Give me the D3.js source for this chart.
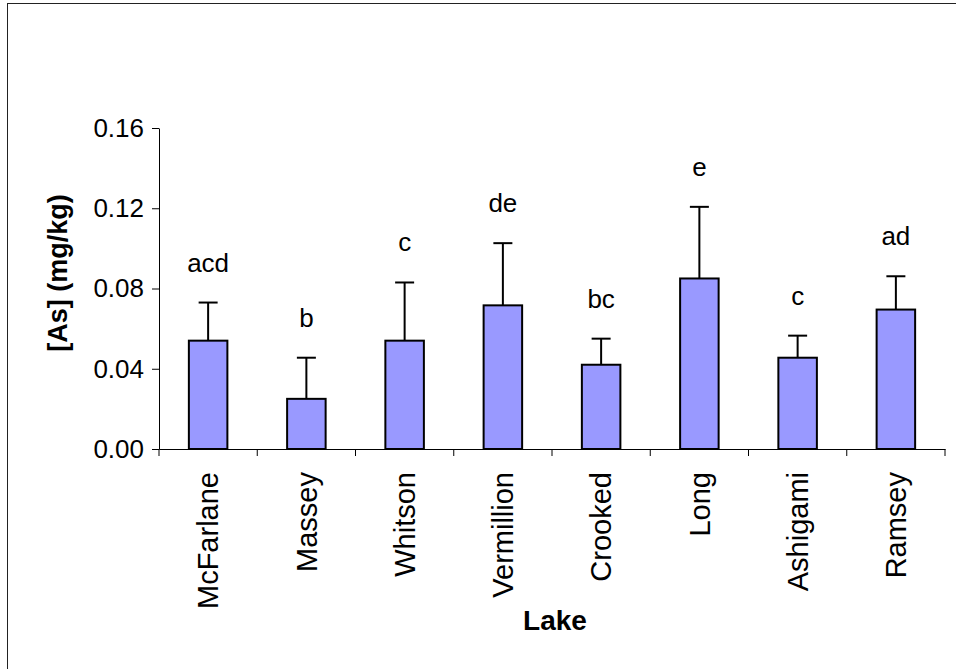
<!DOCTYPE html>
<html>
<head>
<meta charset="utf-8">
<script src="https://cdn.jsdelivr.net/npm/d3@7"></script>
<style>
  body { margin: 0; background: #fff; overflow: hidden; }
  svg { display: block; }
</style>
</head>
<body>
<div id="root"></div>
<script>
const lakes = ["McFarlane", "Massey", "Whitson", "Vermillion", "Crooked", "Long", "Ashigami", "Ramsey"];
const arsenic = [0.054, 0.025, 0.054, 0.0716, 0.042, 0.085, 0.0455, 0.0695];
const errors = [0.019, 0.0205, 0.029, 0.031, 0.013, 0.0357, 0.011, 0.0166];
const groups = ["acd", "b", "c", "de", "bc", "e", "c", "ad"];
const yTicks = [0, 0.04, 0.08, 0.12, 0.16];

const width = 956;
const height = 669;
const margin = { top: 128, right: 11, bottom: 220, left: 159 };
const innerWidth = width - margin.left - margin.right;
const innerHeight = height - margin.top - margin.bottom;
const fontFamily = "'Liberation Sans', Arial, sans-serif";

const data = lakes.map((lake, i) => ({
  lake,
  value: arsenic[i],
  err: errors[i],
  group: groups[i],
}));

const root = d3
  .select("#root")
  .style("position", "relative")
  .style("width", `${width}px`)
  .style("height", `${height}px`);

// outer frame as a plain border (only top and left edges fall inside the picture)
root
  .append("div")
  .style("position", "absolute")
  .style("left", "7px")
  .style("top", "3px")
  .style("width", `${width}px`)
  .style("height", `${height}px`)
  .style("border-left", "1.5px solid #222")
  .style("border-top", "1.5px solid #222");

const svg = root
  .append("svg")
  .style("position", "absolute")
  .style("left", 0)
  .style("top", 0)
  .attr("width", width)
  .attr("height", height)
  .attr("font-family", fontFamily);

const xScale = d3
  .scaleBand()
  .domain(lakes)
  .range([0, innerWidth])
  .paddingInner(0.608)
  .paddingOuter(0.304);

const yScale = d3.scaleLinear().domain([0, 0.16]).range([innerHeight, 0]);

const innerChart = svg
  .append("g")
  .attr("transform", `translate(${margin.left}, ${margin.top})`);

// bars
innerChart
  .selectAll(".bar")
  .data(data)
  .join("rect")
  .attr("class", "bar")
  .attr("x", (d) => xScale(d.lake))
  .attr("width", xScale.bandwidth())
  .attr("y", (d) => yScale(d.value))
  .attr("height", (d) => innerHeight - yScale(d.value))
  .attr("fill", "#9999ff")
  .attr("stroke", "#000")
  .attr("stroke-width", 2);

// error bars (upper only)
const cx = (d) => xScale(d.lake) + xScale.bandwidth() / 2;
const errG = innerChart.selectAll(".err").data(data).join("g").attr("class", "err");
errG
  .append("line")
  .attr("x1", cx)
  .attr("x2", cx)
  .attr("y1", (d) => yScale(d.value))
  .attr("y2", (d) => yScale(d.value + d.err))
  .attr("stroke", "#000")
  .attr("stroke-width", 2);
errG
  .append("line")
  .attr("x1", (d) => cx(d) - 9.5)
  .attr("x2", (d) => cx(d) + 9.5)
  .attr("y1", (d) => yScale(d.value + d.err))
  .attr("y2", (d) => yScale(d.value + d.err))
  .attr("stroke", "#000")
  .attr("stroke-width", 2);

// significance letters
innerChart
  .selectAll(".group")
  .data(data)
  .join("text")
  .attr("class", "group")
  .attr("x", cx)
  .attr("y", (d) => yScale(d.value + d.err) - 31)
  .attr("text-anchor", "middle")
  .attr("font-size", 26)
  .text((d) => d.group);

// y axis
const leftAxis = d3
  .axisLeft(yScale)
  .tickValues(yTicks)
  .tickFormat(d3.format(".2f"))
  .tickSize(7)
  .tickSizeOuter(0)
  .tickPadding(8);
const yAxisG = innerChart
  .append("g")
  .call(leftAxis)
  .attr("font-size", 26)
  .attr("font-family", fontFamily);
yAxisG.selectAll("text").attr("fill", "#000");
yAxisG.selectAll("line, path").attr("stroke", "#000");

// x axis: line, boundary ticks and rotated labels
const bottomAxis = d3.axisBottom(xScale).tickSize(0).tickSizeOuter(0).tickPadding(23);
const xAxisG = innerChart
  .append("g")
  .attr("transform", `translate(0, ${innerHeight})`)
  .call(bottomAxis)
  .attr("font-size", 29)
  .attr("font-family", fontFamily);
xAxisG.select(".domain").attr("stroke", "#000");
xAxisG
  .selectAll("text")
  .attr("transform", "rotate(-90)")
  .attr("x", -23)
  .attr("y", 0)
  .attr("dy", "0.35em")
  .attr("text-anchor", "end")
  .attr("fill", "#000");

xAxisG
  .selectAll(".bound")
  .data(d3.range(lakes.length + 1))
  .join("line")
  .attr("class", "bound")
  .attr("x1", (i) => i * xScale.step())
  .attr("x2", (i) => i * xScale.step())
  .attr("y1", 0)
  .attr("y2", 7)
  .attr("stroke", "#000");

// axis titles
svg
  .append("text")
  .attr("transform", `translate(67, ${margin.top + 145}) rotate(-90)`)
  .attr("text-anchor", "middle")
  .attr("font-size", 27)
  .attr("font-weight", "bold")
  .text("[As] (mg/kg)");

svg
  .append("text")
  .attr("x", margin.left + innerWidth / 2 + 3)
  .attr("y", 630)
  .attr("text-anchor", "middle")
  .attr("font-size", 28)
  .attr("font-weight", "bold")
  .text("Lake");
</script>
</body>
</html>
